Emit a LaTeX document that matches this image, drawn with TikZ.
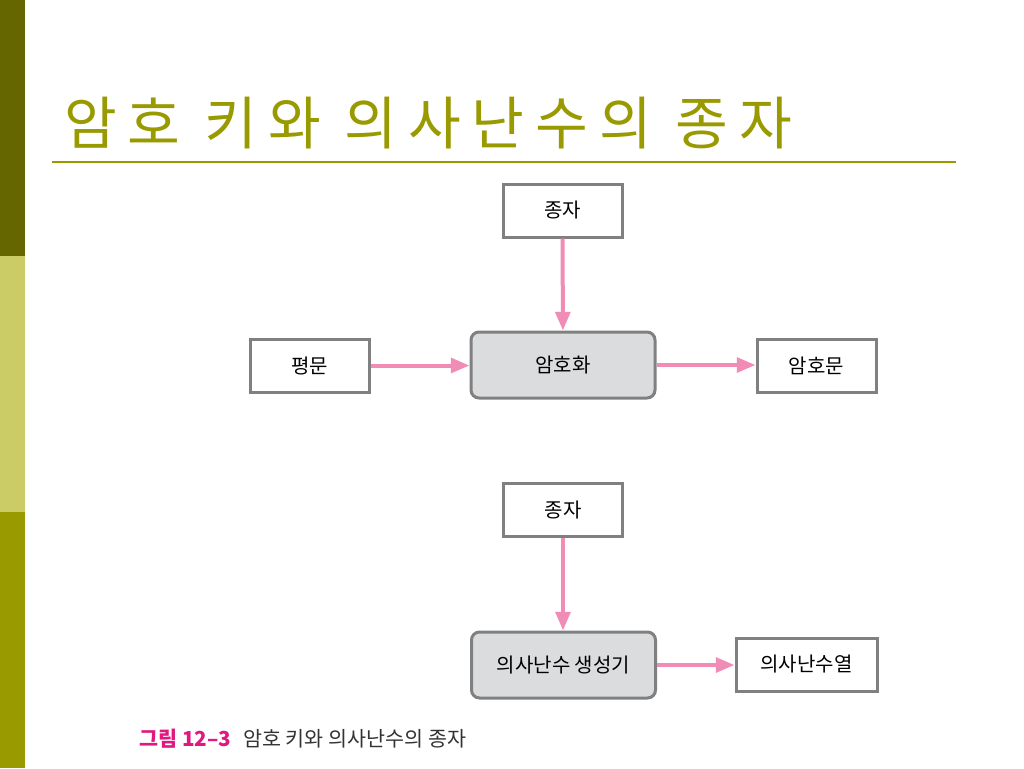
\documentclass[tikz,border=0pt]{standalone}
\usepackage{fontspec}
\setmainfont{Noto Sans CJK KR}
\usetikzlibrary{arrows.meta}
\definecolor{bardark}{HTML}{666600}
\definecolor{barlight}{HTML}{CCCC66}
\definecolor{barmid}{HTML}{999900}
\definecolor{titlec}{HTML}{999900}
\definecolor{boxgray}{HTML}{808080}
\definecolor{procgray}{HTML}{DADCDD}
\definecolor{pinkc}{HTML}{F08CB6}
\definecolor{magc}{HTML}{E0187F}
\definecolor{captc}{HTML}{333333}
\begin{document}
\begin{tikzpicture}[x=0.75pt,y=-0.75pt,
  plainbox/.style={draw=boxgray, line width=2.25pt, fill=white, inner sep=0pt,
    minimum width=89.25pt, minimum height=39.75pt, font=\fontsize{15}{18}\selectfont},
  procbox/.style={plainbox, rounded corners=6pt, fill=procgray,
    minimum width=138pt, minimum height=49.5pt},
  flow/.style={draw=pinkc, line width=3pt, -{Triangle[length=14pt,width=11pt]}}]
\useasboundingbox (0,0) rectangle (1024,768);
\fill[white] (0,0) rectangle (1024,768);
% side bar
\fill[bardark] (0,0) rectangle (25,256);
\fill[barlight] (0,256) rectangle (25,512);
\fill[barmid] (0,512) rectangle (25,768);
% title
\node[anchor=base west, text=titlec, inner sep=0pt, font=\fontsize{43}{50}\selectfont\addfontfeature{LetterSpace=19}] (title) at (64,144) {암호 키와 의사난수의 종자};
\draw[titlec, line width=1.5pt] (52,162) -- (956,162);
% upper diagram
\node[plainbox] (seed1) at (562.5,210.5) {종자};
\node[plainbox] (plain) at (309.5,365.5) {평문};
\node[procbox] (enc) at (563,365) {암호화};
\node[plainbox] (cipher) at (816.5,365.5) {암호문};
\draw[flow] (seed1) -- (enc);
\draw[flow] (plain) -- (plain -| enc.west);
\draw[flow] (enc) -- (enc -| cipher.west);
% lower diagram
\node[plainbox] (seed2) at (563,510) {종자};
\node[procbox] (prng) at (563.5,665) {의사난수 생성기};
\node[plainbox, minimum width=105.75pt] (seq) at (806.5,664.5) {의사난수열};
\draw[flow] (seed2) -- (seed2 |- prng.north);
\draw[flow] (prng) -- (prng -| seq.west);
% caption
\node[anchor=base west, inner sep=0pt, text=captc, font=\fontsize{15.5}{18}\selectfont] (cap) at (139,746)
  {\textcolor{magc}{\bfseries 그림 12–3}\hspace{9pt}암호 키와 의사난수의 종자};
\end{tikzpicture}
\end{document}
